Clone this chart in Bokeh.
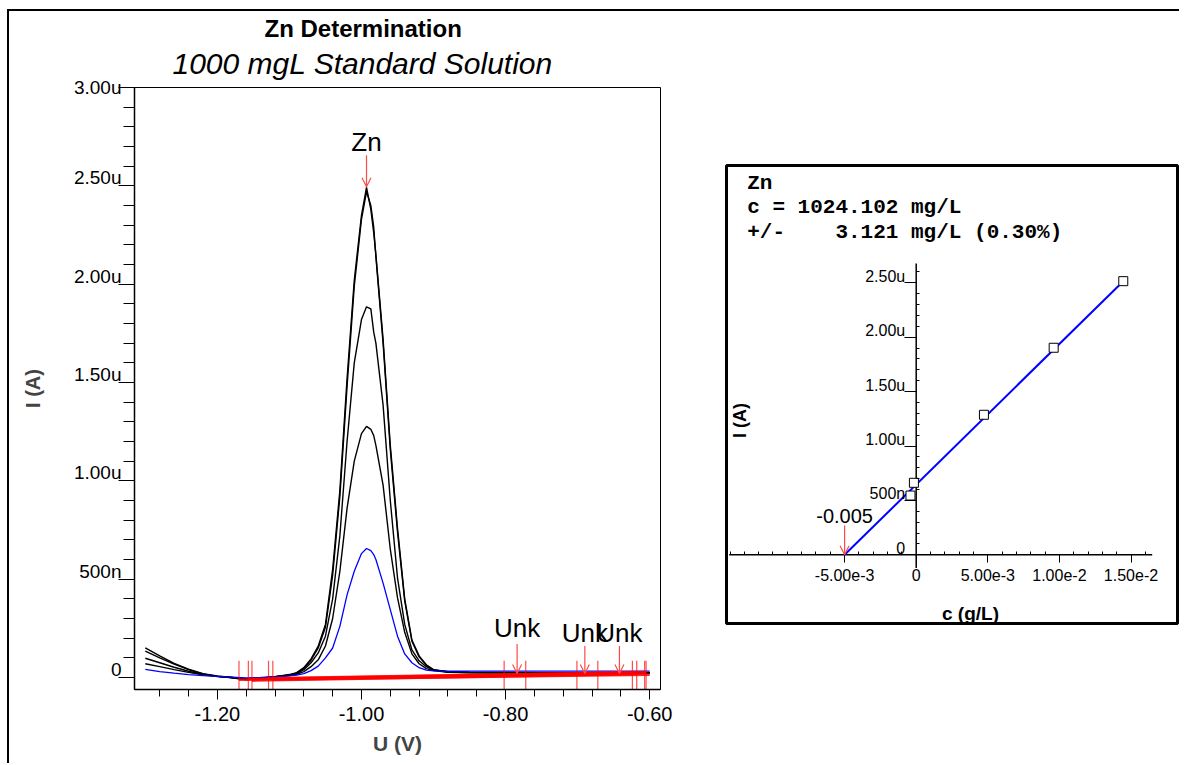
from bokeh.plotting import figure
from bokeh.models import (Range1d, FixedTicker, LabelSet, Label, Arrow, OpenHead,
                          ColumnDataSource, Title, Spacer, NumeralTickFormatter, LinearAxis)
from bokeh.layouts import row, column
from bokeh.embed import file_html
from bokeh.resources import INLINE
from bokeh.core.properties import value

# ---------------- voltammograms (U in V, I in microampere) ----------------
volt = [-1.30, -1.28, -1.26, -1.24, -1.22, -1.20, -1.18, -1.16, -1.14, -1.12,
        -1.10, -1.09, -1.08, -1.07, -1.06, -1.05, -1.04, -1.03, -1.02, -1.01,
        -1.00, -0.993, -0.987, -0.983, -0.98, -0.97, -0.96, -0.95, -0.94, -0.93,
        -0.92, -0.91, -0.90, -0.88, -0.85, -0.80, -0.75, -0.70, -0.65, -0.60]

add3_a = [0.151, 0.110, 0.072, 0.042, 0.020, 0.008, 0.000, -0.010, -0.004, 0.004,
          0.015, 0.025, 0.050, 0.095, 0.160, 0.270, 0.550, 0.950, 1.520, 2.020,
          2.350, 2.492, 2.380, 2.260, 2.150, 1.720, 1.180, 0.760, 0.400, 0.190,
          0.110, 0.065, 0.040, 0.030, 0.027, 0.026, 0.025, 0.025, 0.024, 0.024]
add3_b = [0.134, 0.100, 0.068, 0.040, 0.018, 0.006, -0.002, -0.012, -0.005, 0.003,
          0.013, 0.022, 0.045, 0.088, 0.150, 0.255, 0.520, 0.920, 1.480, 1.990,
          2.330, 2.470, 2.400, 2.290, 2.140, 1.700, 1.160, 0.740, 0.390, 0.185,
          0.105, 0.062, 0.038, 0.029, 0.026, 0.025, 0.025, 0.024, 0.024, 0.024]
add2 = [0.098, 0.075, 0.052, 0.032, 0.016, 0.006, 0.000, -0.008, -0.003, 0.004,
        0.012, 0.020, 0.040, 0.075, 0.125, 0.210, 0.400, 0.720, 1.200, 1.600,
        1.820, 1.885, 1.874, 1.756, 1.700, 1.385, 0.900, 0.507, 0.270, 0.140,
        0.085, 0.055, 0.038, 0.028, 0.025, 0.024, 0.024, 0.023, 0.023, 0.023]
add1 = [0.070, 0.055, 0.040, 0.026, 0.014, 0.005, 0.000, -0.006, -0.002, 0.004,
        0.010, 0.016, 0.030, 0.055, 0.090, 0.160, 0.300, 0.540, 0.860, 1.100,
        1.240, 1.277, 1.262, 1.230, 1.180, 0.978, 0.653, 0.406, 0.230, 0.120,
        0.070, 0.045, 0.035, 0.027, 0.024, 0.023, 0.023, 0.022, 0.022, 0.022]
sample = [0.041, 0.030, 0.022, 0.015, 0.010, 0.006, 0.002, -0.002, 0.000, 0.003,
          0.008, 0.012, 0.020, 0.035, 0.058, 0.100, 0.150, 0.260, 0.420, 0.540,
          0.630, 0.656, 0.645, 0.625, 0.600, 0.480, 0.345, 0.210, 0.120, 0.075,
          0.050, 0.038, 0.034, 0.032, 0.032, 0.032, 0.032, 0.032, 0.032, 0.032]

# baselines (red) : start / end points
base_u0 = [-1.170, -1.157, -1.152, -1.129, -1.123]
base_i0 = [-0.012, -0.008, -0.016, -0.004, -0.010]
base_u1 = [-0.605, -0.607, -0.618, -0.624, -0.600]
base_i1 = [0.022, 0.028, 0.018, 0.026, 0.014]

# peak limit markers (red ticks)
limit_u = [-1.170, -1.157, -1.152, -1.129, -1.123,
           -0.802, -0.772, -0.701, -0.672, -0.624, -0.618, -0.607, -0.605]

# peak identification
zn_peak_u = -0.993
zn_peak_i = 2.495
unk_u = [-0.784, -0.690, -0.642]
unk_tip = [0.020, 0.020, 0.020]
unk_top = [0.170, 0.160, 0.160]
unk_text_i = [0.250, 0.228, 0.228]

left_xticks = [-1.20, -1.00, -0.80, -0.60]
left_xminor = [-1.32, -1.28, -1.24, -1.16, -1.12, -1.08, -1.04, -0.96, -0.92,
               -0.88, -0.84, -0.76, -0.72, -0.68, -0.64]
left_yticks = [0.0, 0.5, 1.0, 1.5, 2.0, 2.5, 3.0]
left_ytick_labels = ["0", "500n", "1.00u", "1.50u", "2.00u", "2.50u", "3.00u"]
left_yminor = [0.1, 0.2, 0.3, 0.4, 0.6, 0.7, 0.8, 0.9, 1.1, 1.2, 1.3, 1.4,
               1.6, 1.7, 1.8, 1.9, 2.1, 2.2, 2.3, 2.4, 2.6, 2.7, 2.8, 2.9]

# ---------------- calibration (c in g/L, I in microampere) ----------------
cal_c = [-0.0004, -0.00016, 0.00473, 0.00960, 0.01446]
cal_i = [0.545, 0.662, 1.287, 1.903, 2.515]
fit_c = [-0.0050, 0.01446]
fit_i = [0.0, 2.515]
intercept_c = -0.005
intercept_text = "-0.005"

right_xticks = [-0.005, 0.0, 0.005, 0.010, 0.015]
right_xtick_labels = ["-5.00e-3", "0", "5.00e-3", "1.00e-2", "1.50e-2"]
right_yticks = [0.0, 0.5, 1.0, 1.5, 2.0, 2.5]
right_ytick_labels = ["0", "500n", "1.00u", "1.50u", "2.00u", "2.50u"]

result_lines = ["Zn", "c = 1024.102 mg/L", "+/-", "3.121 mg/L (0.30%)"]

FONT = "Liberation Sans"
ARW = "#ff4a4a"

# ============================ left figure ============================
Y0, Y1 = -0.061, 3.0
p = figure(width=715, height=752, title=None,
           x_range=Range1d(-1.315, -0.585), y_range=Range1d(Y0, Y1),
           min_border_left=125, min_border_right=64, min_border_top=76, min_border_bottom=74,
           output_backend="svg", toolbar_location=None)
p.grid.visible = False
p.outline_line_color = "black"
p.outline_line_width = 1
p.background_fill_color = "white"
p.border_fill_color = "white"

sub = Title(text="1000 mgL Standard Solution", text_font=FONT, text_font_style="italic",
            text_font_size="30px", align="left", offset=38, standoff=16, text_color="black")
main = Title(text="Zn Determination", text_font=FONT, text_font_style="bold",
             text_font_size="24px", align="left", offset=130, standoff=-11, text_color="black")
p.add_layout(sub, "above")
p.add_layout(main, "above")

xa = p.xaxis[0]
xa.ticker = FixedTicker(ticks=left_xticks, minor_ticks=left_xminor)
xa.formatter = NumeralTickFormatter(format="0.00")
xa.major_label_text_font = FONT
xa.major_label_text_font_size = "20px"
xa.major_label_text_color = "black"
xa.major_label_standoff = 7
xa.major_tick_out = 10
xa.major_tick_in = 0
xa.minor_tick_out = 7
xa.minor_tick_in = 0
xa.axis_line_width = 1.5
xa.axis_line_color = "black"
xa.major_tick_line_color = "black"
xa.minor_tick_line_color = "black"
xa.axis_label = "U (V)"
xa.axis_label_text_font = FONT
xa.axis_label_text_font_style = "bold"
xa.axis_label_text_font_size = "21px"
xa.axis_label_standoff = 8

# tick marks on the frame edge
ya = p.yaxis[0]
ya.ticker = FixedTicker(ticks=left_yticks, minor_ticks=left_yminor)
ya.major_label_text_color = None
ya.major_label_standoff = 0
ya.major_tick_out = 16
ya.major_tick_in = 0
ya.minor_tick_out = 11
ya.minor_tick_in = 0
ya.axis_line_width = 1.5
ya.axis_line_color = "black"
ya.major_tick_line_color = "black"
ya.minor_tick_line_color = "black"

# tick labels, lifted so that they sit on their tick lines
lift = 8 / 196.7
lab_top = Y1 - lift
p.extra_y_ranges = {"labels": Range1d(Y0 - lift, lab_top)}
label_pos = [min(t, lab_top) for t in left_yticks]
ylab = LinearAxis(y_range_name="labels", ticker=FixedTicker(ticks=label_pos))
ylab.major_label_overrides = dict(zip(label_pos, left_ytick_labels))
ylab.major_label_text_font = FONT
ylab.major_label_text_font_size = "19px"
ylab.major_label_text_color = "black"
ylab.major_label_standoff = -3
ylab.major_tick_out = 0
ylab.major_tick_in = 0
ylab.minor_tick_out = 0
ylab.minor_tick_in = 0
ylab.axis_line_color = None
ylab.major_tick_line_color = None
ylab.minor_tick_line_color = None
ylab.axis_label = "I (A)"
ylab.axis_label_text_font = FONT
ylab.axis_label_text_font_style = "bold"
ylab.axis_label_text_font_size = "20px"
ylab.axis_label_standoff = 27
p.add_layout(ylab, "left")

for ys in [add3_a, add3_b, add2, add1]:
    p.line(volt, ys, line_color="black", line_width=1.4)
p.line(volt, sample, line_color="#0000ff", line_width=1.3)

p.segment(x0=base_u0, y0=base_i0, x1=base_u1, y1=base_i1,
          line_color="#ff0000", line_width=2.5, line_alpha=0.85)
p.segment(x0=limit_u, y0=[-0.07] * len(limit_u), x1=limit_u, y1=[0.085] * len(limit_u),
          line_color="#ff0000", line_width=1.2, line_alpha=0.7)

p.add_layout(Arrow(end=OpenHead(size=9, line_color=ARW, line_width=1.2),
                   x_start=zn_peak_u, y_start=zn_peak_i + 0.16, x_end=zn_peak_u, y_end=zn_peak_i,
                   line_color=ARW, line_width=1.2))
p.add_layout(Label(x=zn_peak_u, y=zn_peak_i + 0.23, text="Zn", text_align="center",
                   text_baseline="alphabetic", text_font=FONT, text_font_size="26px",
                   text_color="black"))
for u, tip, top, ti in zip(unk_u, unk_tip, unk_top, unk_text_i):
    p.add_layout(Arrow(end=OpenHead(size=9, line_color=ARW, line_width=1.2),
                       x_start=u, y_start=top, x_end=u, y_end=tip,
                       line_color=ARW, line_width=1.2))
    p.add_layout(Label(x=u, y=ti, text="Unk", text_align="center", text_baseline="alphabetic",
                       text_font=FONT, text_font_size="26px", text_color="black"))

# ============================ right figure ============================
q = figure(width=455, height=462, title=None,
           x_range=Range1d(-0.013247, 0.018247), y_range=Range1d(-0.631, 3.578),
           min_border_left=2, min_border_right=2, min_border_top=2, min_border_bottom=2,
           output_backend="svg", toolbar_location=None)
q.grid.visible = False
q.outline_line_color = "black"
q.outline_line_width = 3
q.background_fill_color = "white"
q.border_fill_color = "white"

qx = q.xaxis[0]
qx.fixed_location = 0
qx.ticker = FixedTicker(ticks=right_xticks,
                        minor_ticks=[-0.013, -0.012, -0.011, -0.010, -0.009, -0.008, -0.007,
                                     -0.006, -0.004, -0.003, -0.002, -0.001, 0.001, 0.002,
                                     0.003, 0.004, 0.006, 0.007, 0.008, 0.009, 0.011, 0.012,
                                     0.013, 0.014, 0.016])
qx.major_label_overrides = dict(zip(right_xticks, right_xtick_labels))
qx.major_label_text_font = FONT
qx.major_label_text_font_size = "16px"
qx.major_label_text_color = "black"
qx.major_label_standoff = 6
qx.major_tick_out = 8
qx.major_tick_in = 0
qx.minor_tick_out = 0
qx.minor_tick_in = 3
qx.axis_line_color = None
qx.major_tick_line_color = "black"
qx.minor_tick_line_color = "black"

qy = q.yaxis[0]
qy.fixed_location = 0
qy.ticker = FixedTicker(ticks=right_yticks,
                        minor_ticks=[0.1, 0.2, 0.3, 0.4, 0.6, 0.7, 0.8, 0.9, 1.1, 1.2, 1.3,
                                     1.4, 1.6, 1.7, 1.8, 1.9, 2.1, 2.2, 2.3, 2.4, 2.6])
qy.major_label_text_color = None
qy.major_tick_out = 12
qy.major_tick_in = 0
qy.minor_tick_out = 0
qy.minor_tick_in = 3
qy.axis_line_color = None
qy.major_tick_line_color = "black"
qy.minor_tick_line_color = "black"

# axis lines crossing at the origin
q.line([-0.01306, 0.01648], [0, 0], line_color="black", line_width=1.5)
q.line([0, 0], [-0.12, 2.677], line_color="black", line_width=1.5)

rtl = ColumnDataSource(dict(y=right_yticks, text=right_ytick_labels,
                            x=[0.0] * len(right_yticks)))
q.add_layout(LabelSet(x="x", y="y", text="text", source=rtl, x_offset=-11, y_offset=1,
                      text_align="right", text_baseline="alphabetic",
                      text_font=value(FONT), text_font_size="16px", text_color="black"))

q.line(fit_c, fit_i, line_color="#0000ff", line_width=2)
q.scatter(cal_c, cal_i, marker="square", size=9, fill_color="white",
          line_color="black", line_width=1)

q.add_layout(Arrow(end=OpenHead(size=9, line_color=ARW, line_width=1.2),
                   x_start=intercept_c, y_start=0.27, x_end=intercept_c, y_end=0.0,
                   line_color=ARW, line_width=1.2))
q.add_layout(Label(x=intercept_c, y=0.36, text=intercept_text, text_align="center",
                   text_baseline="alphabetic", text_font=FONT, text_font_size="20px",
                   text_color="black"))

MONO = "Liberation Mono"
tx0 = -0.011802
q.add_layout(Label(x=tx0, y=3.41, text=result_lines[0], text_font=MONO, text_font_style="bold",
                   text_font_size="21px", text_baseline="alphabetic", text_color="black"))
q.add_layout(Label(x=tx0, y=3.19, text=result_lines[1], text_font=MONO, text_font_style="bold",
                   text_font_size="21px", text_baseline="alphabetic", text_color="black"))
q.add_layout(Label(x=tx0, y=2.965, text=result_lines[2], text_font=MONO, text_font_style="bold",
                   text_font_size="21px", text_baseline="alphabetic", text_color="black"))
q.add_layout(Label(x=tx0 + 0.00616, y=2.965, text=result_lines[3], text_font=MONO,
                   text_font_style="bold", text_font_size="21px", text_baseline="alphabetic",
                   text_color="black"))

q.add_layout(Label(x=-0.01227, y=1.234, text="I (A)", angle=1.5708, text_align="center",
                   text_baseline="middle", text_font=FONT, text_font_style="bold",
                   text_font_size="18px", text_color="black"))
q.add_layout(Label(x=0.00379, y=-0.54, text="c (g/L)", text_align="center",
                   text_baseline="middle", text_font=FONT, text_font_style="bold",
                   text_font_size="19px", text_color="black"))

inner = row(p, column(Spacer(width=455, height=152), q),
            styles={"border-top": "2px solid black", "border-left": "2px solid black"})
layout = column(Spacer(width=10, height=9), row(Spacer(width=7, height=10), inner))

open("out.html", "w").write(file_html(layout, INLINE))
